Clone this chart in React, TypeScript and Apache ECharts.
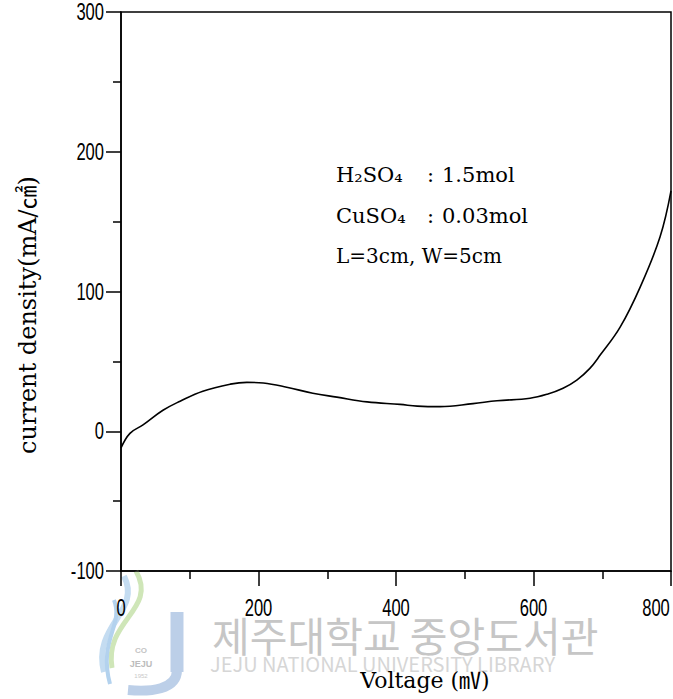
import React, { useEffect, useRef } from "react";
import * as echarts from "echarts";

// Polarisation curve: applied voltage (mV) against current density (mA/cm²)
const voltage = [0, 13, 32, 61, 86, 119, 159, 183, 207, 241, 279, 314, 358, 406, 431, 464, 512, 547, 595, 620, 643, 663, 682, 697, 726, 755, 784, 800];
const currentDensity = [-12, -1.5, 4.5, 15, 21.5, 28.7, 33.7, 35, 34.5, 31.5, 27.2, 24.4, 21, 19.2, 18, 17.6, 19.8, 21.8, 23.6, 26.5, 30.8, 36.6, 45, 54.5, 74.5, 103, 139, 172];

const xTickLabels = [0, 200, 400, 600, 800];
const yTickLabels = [-100, 0, 100, 200, 300];

const conditionLabels = ["H₂SO₄", "CuSO₄"];
const conditionValues = ["1.5mol", "0.03mol"];
const geometryLabel = "L=3cm, W=5cm";

const xTitle = "Voltage (㎷)";
const yTitle = "current density(mA/㎠)";
const libraryName = "제주대학교 중앙도서관";
const libraryNameEn = "JEJU NATIONAL UNIVERSITY LIBRARY";

const SERIF = "'DejaVu Serif', 'Liberation Serif', 'Noto Sans CJK KR', serif";
const DIGITS = "'Liberation Sans', Arial, sans-serif";
const CJK = "'Noto Sans CJK KR', sans-serif";

export default function App() {
  const ref = useRef<HTMLDivElement>(null);

  useEffect(() => {
    if (!ref.current) return;
    const chart = echarts.init(ref.current, undefined, { renderer: "svg" });

    const axisLine = { show: true, onZero: false, lineStyle: { color: "#000", width: 1.5 } };
    const tick = { show: true, length: 15, lineStyle: { color: "#000", width: 1.5 } };
    const minor = { show: true, splitNumber: 2, length: 8, lineStyle: { color: "#000", width: 1.5 } };

    const xMin = xTickLabels[0];
    const xMax = xTickLabels[xTickLabels.length - 1];
    const yMin = yTickLabels[0];
    const yMax = yTickLabels[yTickLabels.length - 1];

    chart.setOption({
      animation: false,
      backgroundColor: "#fff",
      grid: {
        left: 121, right: 2, top: 12, bottom: 128,
        outerBoundsMode: "none",
        containLabel: false,
        show: true, borderColor: "#000", borderWidth: 1.5,
      },
      xAxis: {
        type: "value",
        min: xMin,
        max: xMax,
        interval: xTickLabels[1] - xTickLabels[0],
        axisLine,
        axisTick: tick,
        minorTick: minor,
        splitLine: { show: false },
        axisLabel: { show: false },
      },
      yAxis: {
        type: "value",
        min: yMin,
        max: yMax,
        interval: yTickLabels[1] - yTickLabels[0],
        axisLine,
        axisTick: tick,
        minorTick: minor,
        splitLine: { show: false },
        axisLabel: { show: false },
      },
      series: [
        {
          type: "line",
          data: voltage.map((v, i) => [v, currentDensity[i]]),
          smooth: 0.4,
          showSymbol: false,
          lineStyle: { color: "#000", width: 1.6 },
          z: 5,
        },
      ],
    });

    // condensed tick labels, placed through the axes' own scales
    const tickLabels: any[] = [];
    xTickLabels.forEach((v) => {
      const [px, py] = chart.convertToPixel({ gridIndex: 0 }, [v, yMin]) as number[];
      tickLabels.push({
        type: "text", x: Math.min(px, 656), y: py + 37, scaleX: 0.72,
        style: { text: String(v), font: `23px ${DIGITS}`, fill: "#000", align: "center", verticalAlign: "middle" },
      });
    });
    yTickLabels.forEach((v) => {
      const [px, py] = chart.convertToPixel({ gridIndex: 0 }, [xMin, v]) as number[];
      tickLabels.push({
        type: "text", x: px - 17, y: py, scaleX: 0.72,
        style: { text: String(v), font: `23px ${DIGITS}`, fill: "#000", align: "right", verticalAlign: "middle" },
      });
    });

    const annotations: any[] = [];
    conditionLabels.forEach((name, i) => {
      const y = 175 + i * 41;
      annotations.push(
        { type: "text", x: 336, y, style: { text: name, font: `21px ${SERIF}`, fill: "#000", verticalAlign: "middle" } },
        { type: "text", x: 427, y, style: { text: ":", font: `21px ${SERIF}`, fill: "#000", verticalAlign: "middle" } },
        { type: "text", x: 442, y, style: { text: conditionValues[i], font: `21px ${SERIF}`, fill: "#000", verticalAlign: "middle" } }
      );
    });
    annotations.push({ type: "text", x: 336, y: 256, style: { text: geometryLabel, font: `20px ${SERIF}`, fill: "#000", verticalAlign: "middle" } });

    // library emblem and stamp
    const emblem: any[] = [
      { type: "bezierCurve", shape: { x1: 136, y1: 571, cpx1: 158, cpy1: 610, cpx2: 104, cpy2: 620, x2: 112, y2: 668 }, style: { stroke: "#cfe6b8", lineWidth: 5, fill: null } },
      { type: "bezierCurve", shape: { x1: 124, y1: 576, cpx1: 142, cpy1: 612, cpx2: 92, cpy2: 625, x2: 104, y2: 672 }, style: { stroke: "#c4dcf1", lineWidth: 6, fill: null } },
      { type: "bezierCurve", shape: { x1: 114, y1: 600, cpx1: 124, cpy1: 625, cpx2: 98, cpy2: 640, x2: 110, y2: 684 }, style: { stroke: "#b3d2ee", lineWidth: 4, fill: null } },
      { type: "polyline", shape: { points: [[177, 612], [177, 672]] }, style: { stroke: "#bccfe8", lineWidth: 13 } },
      { type: "bezierCurve", shape: { x1: 177, y1: 670, cpx1: 177, cpy1: 690, cpx2: 150, cpy2: 692, x2: 128, y2: 690 }, style: { stroke: "#bccfe8", lineWidth: 10, fill: null } },
      { type: "text", x: 141, y: 650, style: { text: "CO", font: `bold 8px ${DIGITS}`, fill: "#c4c4c4", align: "center", verticalAlign: "middle" } },
      { type: "text", x: 141, y: 664, style: { text: "JEJU", font: `bold 9px ${DIGITS}`, fill: "#bcbcbc", align: "center", verticalAlign: "middle" } },
      { type: "text", x: 141, y: 676, style: { text: "1952", font: `6px ${DIGITS}`, fill: "#c8c8c8", align: "center", verticalAlign: "middle" } },
      { type: "text", x: 212, y: 634, style: { text: libraryName, font: `41px ${CJK}`, fill: "#c6c6c6", verticalAlign: "middle" } },
      { type: "text", x: 210, y: 663, style: { text: libraryNameEn, font: `20px ${CJK}`, fill: "#d6d6d6", verticalAlign: "middle" } },
    ];

    const titles: any[] = [
      { type: "text", x: 425, y: 680, style: { text: xTitle, font: `22px ${SERIF}`, fill: "#000", align: "center", verticalAlign: "middle" } },
      { type: "text", x: 28, y: 315, rotation: Math.PI / 2, style: { text: yTitle, font: `24px ${SERIF}`, fill: "#000", align: "center", verticalAlign: "middle" } },
    ];

    chart.setOption({ graphic: [...emblem, ...tickLabels, ...titles, ...annotations] });

    return () => chart.dispose();
  }, []);

  return <div ref={ref} style={{ position: "fixed", left: 0, top: 0, width: 673, height: 699 }} />;
}
